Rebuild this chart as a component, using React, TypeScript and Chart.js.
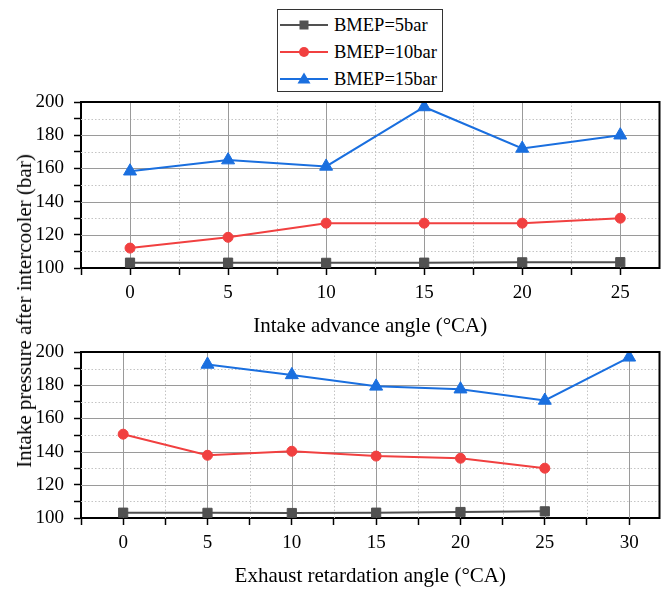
import React, { useEffect, useRef } from 'react';
import { Chart, registerables } from 'chart.js';

Chart.register(...registerables);

const FONT = '"Liberation Serif", "Times New Roman", serif';

const seriesNames = ['BMEP=5bar', 'BMEP=10bar', 'BMEP=15bar'];
const seriesColors = ['#515151', '#F14040', '#1A6FDF'];
const seriesPointStyles = ['rect', 'circle', 'triangle'];
const seriesPointRadius = [6.5, 5, 7.5];

const intakeAngles = [0, 5, 10, 15, 20, 25];
const intakeBmep5 = [103.2, 103.2, 103.1, 103.2, 103.4, 103.5];
const intakeBmep10 = [112, 118.5, 127, 127, 127, 130];
const intakeBmep15 = [158.3, 165, 161.2, 197, 172, 180];

const exhaustAngles = [0, 5, 10, 15, 20, 25, 30];
const exhaustBmep5 = [103.2, 103.1, 103.0, 103.2, 103.6, 104, null];
const exhaustBmep10 = [150.5, 137.8, 140.2, 137.3, 136, 130, null];
const exhaustBmep15 = [null, 192.5, 186.2, 179.3, 177.6, 170.8, 196.8];

const yTicks = [100, 120, 140, 160, 180, 200];
const intakeXTicks = [0, 5, 10, 15, 20, 25];
const exhaustXTicks = [0, 5, 10, 15, 20, 25, 30];

const intakeTitle = 'Intake advance angle (°CA)';
const exhaustTitle = 'Exhaust retardation angle (°CA)';
const yTitle = 'Intake pressure after intercooler (bar)';

type Num = number | null;

function makeGridPlugin(xMajor: number[]) {
  return {
    id: 'gridFrame',
    beforeDatasetsDraw(chart: any) {
      const { ctx, chartArea: a, scales } = chart;
      const xs = scales.x;
      const ys = scales.y;
      ctx.save();
      ctx.lineWidth = 1;
      // minor grid (midpoints)
      ctx.setLineDash([1.5, 2]);
      ctx.strokeStyle = '#c4c4c4';
      for (let i = 0; i < yTicks.length - 1; i++) {
        const v = (yTicks[i] + yTicks[i + 1]) / 2;
        const p = Math.round(ys.getPixelForValue(v)) + 0.5;
        ctx.beginPath(); ctx.moveTo(a.left, p); ctx.lineTo(a.right, p); ctx.stroke();
      }
      const step = xMajor[1] - xMajor[0];
      for (let i = 0; i < xMajor.length; i++) {
        const v = xMajor[i] + step / 2;
        if (v >= xs.max) continue;
        const p = Math.round(xs.getPixelForValue(v)) + 0.5;
        ctx.beginPath(); ctx.moveTo(p, a.top); ctx.lineTo(p, a.bottom); ctx.stroke();
      }
      // major grid
      ctx.setLineDash([]);
      ctx.strokeStyle = '#9a9a9a';
      for (const v of yTicks) {
        if (v <= ys.min || v >= ys.max) continue;
        const p = Math.round(ys.getPixelForValue(v)) + 0.5;
        ctx.beginPath(); ctx.moveTo(a.left, p); ctx.lineTo(a.right, p); ctx.stroke();
      }
      for (const v of xMajor) {
        const p = Math.round(xs.getPixelForValue(v)) + 0.5;
        ctx.beginPath(); ctx.moveTo(p, a.top); ctx.lineTo(p, a.bottom); ctx.stroke();
      }
      ctx.restore();
    },
    afterDraw(chart: any) {
      const { ctx, chartArea: a } = chart;
      ctx.save();
      ctx.strokeStyle = '#000';
      ctx.lineWidth = 2;
      ctx.beginPath();
      ctx.moveTo(a.left - 1, a.top);
      ctx.lineTo(a.right, a.top);
      ctx.lineTo(a.right, a.bottom + 1);
      ctx.stroke();
      ctx.restore();
    },
  };
}

function buildChart(
  canvas: HTMLCanvasElement,
  angles: number[],
  series: Num[][],
  xMin: number,
  xMax: number,
  xMajor: number[],
  title: string
) {
  const datasets = series.map((vals, s) => ({
    label: seriesNames[s],
    data: angles.map((a, i) => ({ x: a, y: vals[i] })),
    borderColor: seriesColors[s],
    backgroundColor: seriesColors[s],
    pointBackgroundColor: seriesColors[s],
    pointBorderColor: seriesColors[s],
    pointStyle: seriesPointStyles[s],
    pointRadius: seriesPointRadius[s],
    pointBorderWidth: 1,
    borderWidth: 2,
    tension: 0,
    fill: false,
    spanGaps: false,
  }));
  return new Chart(canvas, {
    type: 'line',
    data: { datasets } as any,
    options: {
      animation: false,
      responsive: false,
      devicePixelRatio: 1,
      layout: { padding: { top: 12, right: 1, left: 0, bottom: 0 } },
      plugins: { legend: { display: false }, tooltip: { enabled: false } },
      scales: {
        x: {
          type: 'linear',
          min: xMin,
          max: xMax,
          afterBuildTicks: (s: any) => {
            s.ticks = s.ticks.filter(
              (t: any) => Math.abs(t.value / 2.5 - Math.round(t.value / 2.5)) < 1e-6
            );
          },
          afterFit: (s: any) => {
            s.height = 72;
            s.paddingLeft = 0;
            s.paddingRight = 0;
          },
          ticks: {
            stepSize: 2.5,
            includeBounds: false,
            autoSkip: false,
            maxRotation: 0,
            padding: 7,
            color: '#000',
            font: { size: 19, family: FONT },
            callback: (v: any) => (xMajor.includes(Number(v)) ? String(v) : ''),
          },
          grid: { drawOnChartArea: false, drawTicks: true, tickLength: 7, tickColor: '#000', tickWidth: 1.5 },
          border: { display: true, color: '#000', width: 2 },
          title: { display: true, text: title, color: '#000', font: { size: 21, family: FONT }, padding: { top: 0, bottom: 1 } },
        },
        y: {
          min: yTicks[0],
          max: yTicks[yTicks.length - 1],
          afterFit: (s: any) => {
            s.width = 81;
            s.paddingTop = 0;
            s.paddingBottom = 0;
          },
          ticks: {
            stepSize: 10,
            includeBounds: false,
            autoSkip: false,
            padding: 10,
            color: '#000',
            font: { size: 19, family: FONT },
            callback: (v: any) => (yTicks.includes(Number(v)) ? String(v) : ''),
          },
          grid: { drawOnChartArea: false, drawTicks: true, tickLength: 7, tickColor: '#000', tickWidth: 1.5 },
          border: { display: true, color: '#000', width: 2 },
        },
      },
    } as any,
    plugins: [makeGridPlugin(xMajor)],
  });
}

function LegendMarker({ idx }: { idx: number }) {
  const c = seriesColors[idx];
  return (
    <svg width={50} height={16} style={{ display: 'block' }}>
      <line x1={1} y1={8} x2={49} y2={8} stroke={c} strokeWidth={2} />
      {idx === 0 && <rect x={20.5} y={3.5} width={9} height={9} fill={c} />}
      {idx === 1 && <circle cx={25} cy={8} r={5} fill={c} />}
      {idx === 2 && <polygon points="25,1.5 31.5,12.5 18.5,12.5" fill={c} />}
    </svg>
  );
}

export default function App() {
  const topRef = useRef<HTMLCanvasElement>(null);
  const botRef = useRef<HTMLCanvasElement>(null);

  useEffect(() => {
    Chart.defaults.font.family = FONT;
    Chart.defaults.color = '#000';
    const c1 = buildChart(
      topRef.current!,
      intakeAngles,
      [intakeBmep5, intakeBmep10, intakeBmep15],
      -2.5,
      27,
      intakeXTicks,
      intakeTitle
    );
    const c2 = buildChart(
      botRef.current!,
      exhaustAngles,
      [exhaustBmep5, exhaustBmep10, exhaustBmep15],
      -2.5,
      31.8,
      exhaustXTicks,
      exhaustTitle
    );
    return () => {
      c1.destroy();
      c2.destroy();
    };
  }, []);

  return (
    <div style={{ position: 'absolute', left: 0, top: 0, width: 668, height: 590, background: '#fff', overflow: 'hidden' }}>
      <canvas ref={topRef} width={668} height={250} style={{ position: 'absolute', left: 0, top: 90, width: 668, height: 250 }} />
      <canvas ref={botRef} width={668} height={250} style={{ position: 'absolute', left: 0, top: 340, width: 668, height: 250 }} />
      <div
        style={{
          position: 'absolute',
          left: 24,
          top: 311,
          transform: 'translate(-50%, -50%) rotate(-90deg)',
          whiteSpace: 'nowrap',
          fontFamily: FONT,
          fontSize: 21,
          color: '#000',
          lineHeight: '24px',
        }}
      >
        {yTitle}
      </div>
      <div
        style={{
          position: 'absolute',
          left: 277,
          top: 9,
          width: 166,
          height: 83,
          border: '1px solid #333',
          boxSizing: 'border-box',
          background: '#fff',
        }}
      >
        {seriesNames.map((n, i) => (
          <div
            key={n}
            style={{
              position: 'absolute',
              left: 1,
              top: 7 + i * 27,
              height: 16,
              display: 'flex',
              alignItems: 'center',
            }}
          >
            <LegendMarker idx={i} />
            <span style={{ marginLeft: 5, fontFamily: FONT, fontSize: 18.5, color: '#000', whiteSpace: 'nowrap', lineHeight: '16px' }}>{n}</span>
          </div>
        ))}
      </div>
    </div>
  );
}
